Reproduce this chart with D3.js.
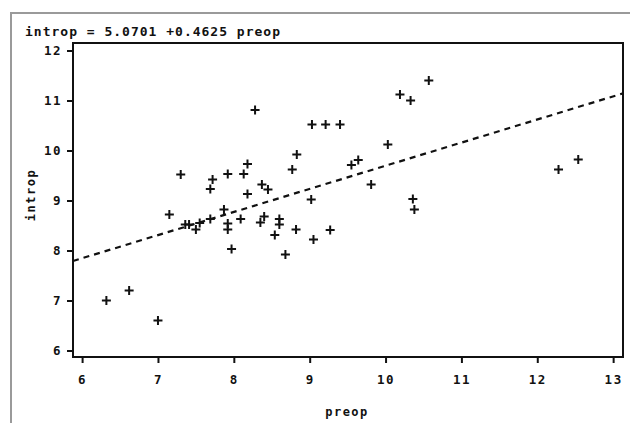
<!DOCTYPE html>
<html lang="en">
<meta charset="utf-8">
<style type="text/css">
  body { margin: 0; background: #fff; }
  svg { display: block; }
  text { font-family: "DejaVu Sans Mono", monospace; font-weight: bold; fill: #111; }
  .tick text { font-size: 12.5px; letter-spacing: 1.5px; }
  .tick line { stroke: #111; stroke-width: 2px; }
</style>
<body>
<script src="https://d3js.org/d3.v7.min.js"></script>
<script>
// preop / introp pairs
var preop  = [6.32, 6.62, 7.00, 7.15, 7.30, 7.36, 7.41, 7.50, 7.55, 7.69,
              7.69, 7.72, 7.87, 7.92, 7.92, 7.92, 7.97, 8.09, 8.13, 8.18,
              8.18, 8.28, 8.37, 8.45, 8.40, 8.35, 8.54, 8.60, 8.60, 8.68,
              8.77, 8.82, 8.83, 9.02, 9.03, 9.05, 9.21, 9.27, 9.40, 9.55,
              9.64, 9.81, 10.03, 10.19, 10.33, 10.36, 10.38, 10.57, 12.28, 12.54];
var introp = [7.00, 7.20, 6.60, 8.72, 9.52, 8.52, 8.52, 8.42, 8.55, 8.63,
              9.23, 9.42, 8.82, 9.53, 8.54, 8.42, 8.03, 8.63, 9.53, 9.73,
              9.13, 10.81, 9.32, 9.22, 8.68, 8.56, 8.31, 8.63, 8.52, 7.92,
              9.62, 8.42, 9.92, 9.02, 10.52, 8.22, 10.52, 8.41, 10.52, 9.71,
              9.81, 9.32, 10.12, 11.12, 11.00, 9.03, 8.82, 11.40, 9.62, 9.82];
var xTicks = [6, 7, 8, 9, 10, 11, 12, 13];
var yTicks = [6, 7, 8, 9, 10, 11, 12];
var intercept = 5.0701, slope = 0.4625;

var width = 630, height = 423;
var boxL = 73, boxR = 623, boxT = 43, boxB = 357;

var svg = d3.select("body").append("svg")
    .attr("width", width)
    .attr("height", height);

// outer grey frame
svg.append("path")
    .attr("d", "M 11," + height + " L 11,13 L " + width + ",13")
    .attr("fill", "none")
    .attr("stroke", "#9a9a9a")
    .attr("stroke-width", 2);

var x = d3.scaleLinear().domain([5.88, 13.13]).range([boxL, boxR]);
var y = d3.scaleLinear().domain([5.87, 12.15]).range([boxB, boxT]);

svg.append("text")
    .attr("x", 25)
    .attr("y", 36)
    .style("font-size", "13px")
    .style("letter-spacing", "1px")
    .text("introp = 5.0701 +0.4625 preop");

var xAxis = svg.append("g")
    .attr("transform", "translate(0," + boxB + ")")
    .call(d3.axisBottom(x).tickValues(xTicks).tickSize(6).tickPadding(12).tickFormat(d3.format("d")));
xAxis.select(".domain").remove();

var yAxis = svg.append("g")
    .attr("transform", "translate(" + boxL + ",0)")
    .call(d3.axisLeft(y).tickValues(yTicks).tickSize(6).tickPadding(5).tickFormat(d3.format("d")));
yAxis.select(".domain").remove();

// plot box
svg.append("rect")
    .attr("x", boxL)
    .attr("y", boxT)
    .attr("width", boxR - boxL)
    .attr("height", boxB - boxT)
    .attr("fill", "none")
    .attr("stroke", "#111")
    .attr("stroke-width", 2);

// fitted line across the box
var x0 = x.domain()[0], x1 = x.domain()[1];
svg.append("line")
    .attr("x1", x(x0)).attr("y1", y(intercept + slope * x0))
    .attr("x2", x(x1)).attr("y2", y(intercept + slope * x1))
    .attr("stroke", "#111")
    .attr("stroke-width", 2.2)
    .attr("stroke-dasharray", "6,5");

// plus markers
svg.append("g").selectAll("path")
    .data(preop.map(function (d, i) { return [d, introp[i]]; }))
    .enter().append("path")
    .attr("transform", function (d) { return "translate(" + x(d[0]) + "," + y(d[1]) + ")"; })
    .attr("d", "M -4.5,0 L 4.5,0 M 0,-4.5 L 0,4.5")
    .attr("stroke", "#111")
    .attr("stroke-width", 2);

svg.append("text")
    .attr("x", 347)
    .attr("y", 416)
    .attr("text-anchor", "middle")
    .style("font-size", "12px")
    .style("letter-spacing", "1.5px")
    .text("preop");

svg.append("text")
    .attr("transform", "translate(35,195) rotate(-90)")
    .attr("text-anchor", "middle")
    .style("font-size", "12px")
    .style("letter-spacing", "1.5px")
    .text("introp");
</script>
</body>
</html>
